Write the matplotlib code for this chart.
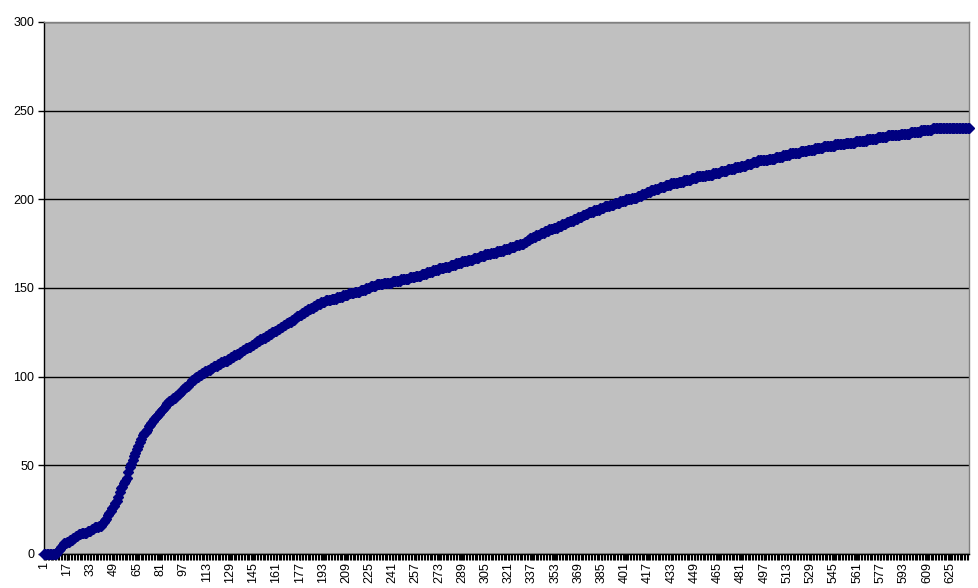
import matplotlib
matplotlib.use("Agg")
import matplotlib.pyplot as plt
from matplotlib.ticker import FixedLocator

plt.rcParams['font.family'] = ['Liberation Sans', 'DejaVu Sans']

# Series values, one per category
values = [
    0, 0, 0, 0, 0, 0, 0, 0, 0,
    1, 2, 3, 4, 5,
    6, 6, 7,
    7, 8, 8, 9,
    9, 10, 10, 11, 11, 12, 12,
    12, 12, 13, 13, 13,
    14, 14, 15, 15,
    15, 16, 16, 17,
    18, 19, 20, 22, 23,
    24, 26, 27, 29, 30,
    32, 35, 37,
    38, 40, 41, 43,
    46, 49,
    51, 53, 55, 57, 59,
    61, 63, 65, 67,
    68, 69, 70, 72, 73, 74, 75,
    76, 77, 78, 79, 80, 81, 82, 83, 84,
    85, 86, 86, 87, 88, 88, 89, 90, 90, 91,
    92, 93, 94, 94, 95, 96, 97, 98, 98, 99, 100,
    100, 101, 101, 102, 102, 103, 103, 104, 104, 105, 105, 106, 106, 106,
    107, 107, 108, 108, 109, 109, 109, 110, 110, 111, 111,
    112, 112, 113, 113, 114, 114, 115, 115, 116, 116, 117, 117, 118, 118,
    119, 119, 120, 120, 121, 121, 122, 122, 123, 123, 124, 124, 125, 125, 126, 126, 127, 127,
    128, 128, 129, 129, 130, 130, 131, 131, 132, 132, 133, 134, 134, 135,
    135, 136, 136, 137, 137, 138, 138, 139, 139, 140, 140, 141, 141, 141, 142, 142,
    142, 143, 143, 143, 143, 144, 144, 144, 144, 145, 145, 145, 145, 146, 146, 146,
    146, 147, 147, 147, 147, 148, 148, 148, 148, 149, 149, 149,
    149, 150, 150, 150, 151, 151, 151, 151, 152, 152, 152,
    152, 152, 153, 153, 153, 153, 153, 153, 154, 154, 154, 154, 154, 154, 155, 155, 155, 155, 155, 155, 156, 156, 156,
    156, 157, 157, 157, 157, 158, 158, 158, 158, 159, 159, 159, 159, 160, 160, 160, 160, 161, 161, 161, 161, 162, 162,
    162, 162, 163, 163, 163, 163, 164, 164, 164, 164, 165, 165, 165, 165, 166, 166, 166, 166, 167, 167, 167, 167, 168,
    168, 168, 168, 169, 169, 169, 169, 170, 170, 170, 170, 171, 171, 171,
    171, 171, 172, 172, 172, 172, 173, 173, 173,
    173, 174, 174, 174, 175, 175, 175, 176, 176,
    177, 177, 178, 178, 179,
    179, 180, 180, 180, 181, 181, 181, 182, 182, 182, 183, 183, 183, 184, 184, 184, 185, 185, 185, 186, 186, 186, 187,
    187, 188, 188, 188, 189, 189, 189, 190, 190, 190, 191, 191, 192, 192, 193, 193,
    193, 193, 194, 194, 194, 194, 195, 195, 195, 196, 196, 196, 196, 197, 197, 197, 198, 198,
    198, 198, 199, 199, 199, 199, 200, 200, 200, 200, 201, 201, 201, 201, 202, 202,
    202, 203, 203, 203, 204, 204, 204, 205, 205, 205, 206, 206, 206, 207, 207, 207, 207, 208, 208,
    208, 208, 209, 209, 209, 209, 209, 210, 210, 210, 210, 211, 211, 211, 211, 211, 212, 212, 212, 212, 213, 213, 213,
    213, 213, 213, 214, 214, 214, 214, 214, 215, 215, 215, 215, 215, 216, 216, 216, 216, 216, 217, 217, 217, 217, 217,
    218, 218, 218, 218, 219, 219, 219, 219, 220, 220, 220, 220, 221, 221, 221, 221, 222, 222, 222, 222,
    222, 222, 222, 223, 223, 223, 223, 223, 224, 224, 224, 224, 224, 225, 225, 225, 225, 225, 226, 226, 226, 226, 226,
    226, 226, 227, 227, 227, 227, 227, 228, 228, 228, 228, 228, 229, 229, 229, 229, 229, 229, 230, 230, 230, 230, 230,
    230, 230, 230, 231, 231, 231, 231, 231, 231, 231, 232, 232, 232, 232, 232, 232, 232, 233, 233, 233, 233, 233, 233,
    233, 233, 234, 234, 234, 234, 234, 234, 234, 235, 235, 235, 235, 235, 235, 235, 236, 236, 236, 236, 236, 236, 236,
    236, 236, 237, 237, 237, 237, 237, 237, 237, 238, 238, 238, 238, 238, 238, 238, 239, 239, 239, 239, 239, 239, 239,
    239, 240, 240, 240,
    240, 240, 240, 240, 240, 240, 240, 240, 240, 240, 240, 240, 240, 240, 240, 240, 240, 240, 240, 240, 240, 240, 240,
]
categories = list(range(1, len(values) + 1))
y_ticks = [0, 50, 100, 150, 200, 250, 300]
x_label_step = 16
x_tick_labels = [c for c in categories if (c - 1) % x_label_step == 0]

fig = plt.figure(figsize=(9.79, 5.88), dpi=100)
fig.patch.set_facecolor('white')
ax = fig.add_axes([44 / 979, 1 - 554 / 588, (969 - 44) / 979, (554 - 22) / 588])
ax.set_facecolor('#C0C0C0')

ax.set_axisbelow(True)
ax.yaxis.grid(True, color='black', linewidth=1.0)
ax.plot(categories, values, color='#000080', linewidth=2.5, marker='D',
        markersize=4.8, markerfacecolor='#000080', markeredgecolor='#000080',
        zorder=3, clip_on=False)

ax.set_xlim(1, len(values))
ax.set_ylim(0, 300)
ax.set_yticks(y_ticks)
ax.set_yticklabels([str(v) for v in y_ticks], fontsize=9)
ax.set_xticks(x_tick_labels)
ax.set_xticklabels([str(c) for c in x_tick_labels], rotation=90, fontsize=9)
ax.xaxis.set_minor_locator(FixedLocator([c + 0.5 for c in categories[:-1]]))
ax.tick_params(axis='x', which='major', length=4, width=1, color='black', pad=2)
ax.tick_params(axis='x', which='minor', length=4, width=0.8, color='black')
ax.tick_params(axis='y', which='major', length=4, width=1, color='black', pad=3)

for side in ['left', 'bottom']:
    ax.spines[side].set_color('black')
    ax.spines[side].set_linewidth(1)
for side in ['top', 'right']:
    ax.spines[side].set_color('#808080')
    ax.spines[side].set_linewidth(1)

fig.savefig('out.png', dpi=100, facecolor='white')
